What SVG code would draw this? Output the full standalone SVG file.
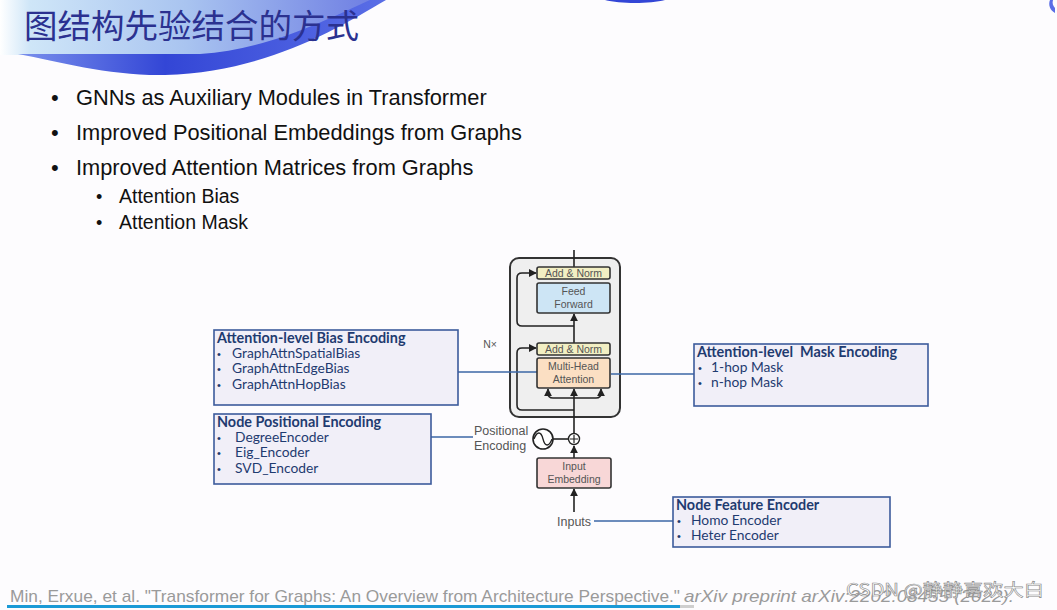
<svg xmlns="http://www.w3.org/2000/svg" width="1057" height="610" viewBox="0 0 1057 610">
<defs>
<linearGradient id="gBanner" x1="0" y1="0" x2="1" y2="0">
<stop offset="0" stop-color="#ffffff"/>
<stop offset="0.08" stop-color="#cfe6f8"/>
<stop offset="0.5" stop-color="#a9c4f0"/>
<stop offset="1" stop-color="#6f7fe3"/>
</linearGradient>
<linearGradient id="gBand" x1="0" y1="0" x2="1" y2="0">
<stop offset="0" stop-color="#7a90ec"/>
<stop offset="0.4" stop-color="#3346d6"/>
<stop offset="1" stop-color="#5a6ee6"/>
</linearGradient>
<marker id="arr" viewBox="0 0 10 10" refX="9" refY="5" markerWidth="5" markerHeight="5" orient="auto-start-reverse">
<path d="M0,0 L10,5 L0,10 z" fill="#222"/>
</marker>
<style>
.bul{font-family:"Liberation Sans",Arial,sans-serif;fill:#111}
.lbl{font-family:"Liberation Sans",Arial,sans-serif;font-size:10.5px;fill:#555;text-anchor:middle}
.lbl2{font-family:"Liberation Sans",Arial,sans-serif;font-size:12.5px;fill:#555}
.blk{stroke:#333;stroke-width:1.6}
.box{fill:#f1eff8;stroke:#3c5b9c;stroke-width:1.6}
.bt{font-family:Lato,"Open Sans",sans-serif;font-size:13.8px;fill:#1f3b70}
.bh{font-weight:bold;font-size:14.4px}
.dot{font-family:"Liberation Sans",Arial,sans-serif;font-size:11px;fill:#1f3b70}
.wire{fill:none;stroke:#222;stroke-width:1.6}
.blue{fill:none;stroke:#3b67a6;stroke-width:1.5}
</style>
</defs>
<rect width="1057" height="610" fill="#fdfcfe"/>
<g id="banner">
<path d="M0,0 L372,0 C330,22 270,52 200,55 L0,55 Z" fill="url(#gBanner)"/>
<path d="M18,54 L200,54 C268,50 330,18 370,0 L386,0 C335,30 265,72 165,75 C110,76 60,62 18,54 Z" fill="url(#gBand)"/>
<path d="M605,0 C620,4 650,4 665,0 Z" fill="#3346d6"/>
<path d="M1050,0 C1048,5 1050,10 1055,13 L1055,8 C1053,6 1052,3 1053,0 Z" fill="#5a6ee6"/>
<text x="24" y="38" font-family="'Noto Sans CJK SC',sans-serif" font-size="33.5" fill="#2b3190">图结构先验结合的方式</text>
</g>
<g id="bullets">
<text class="bul" x="51" y="105" font-size="22">•</text>
<text class="bul" x="76" y="105" font-size="21.8">GNNs as Auxiliary Modules in Transformer</text>
<text class="bul" x="51" y="140" font-size="22">•</text>
<text class="bul" x="76" y="140" font-size="21.8">Improved Positional Embeddings from Graphs</text>
<text class="bul" x="51" y="175" font-size="22">•</text>
<text class="bul" x="76" y="175" font-size="21.8">Improved Attention Matrices from Graphs</text>
<text class="bul" x="96" y="203" font-size="18">•</text>
<text class="bul" x="119" y="203" font-size="19.5">Attention Bias</text>
<text class="bul" x="96" y="229" font-size="18">•</text>
<text class="bul" x="119" y="229" font-size="19.5">Attention Mask</text>
</g>
<g id="encoder-block">
<rect x="510" y="258" width="110" height="159" rx="9" fill="#efefef" stroke="#333" stroke-width="2"/>
<text x="490" y="348" class="lbl" font-size="12">N×</text>
</g>
<g id="connectors">
<line class="wire" x1="574" y1="250" x2="574" y2="268"/>
<line class="wire" x1="574" y1="343" x2="574" y2="314" marker-end="url(#arr)"/>
<line class="wire" x1="574" y1="433" x2="574" y2="389" marker-end="url(#arr)"/>
<path class="wire" d="M574,326 H522 Q517,326 517,321 V278 Q517,273 522,273 H536" marker-end="url(#arr)"/>
<path class="wire" d="M574,410 H522 Q517,410 517,405 V353 Q517,348 522,348 H536" marker-end="url(#arr)"/>
<path class="wire" d="M574,398 H553 Q548,398 548,393 V389" marker-end="url(#arr)"/>
<path class="wire" d="M574,398 H596 Q601,398 601,393 V389" marker-end="url(#arr)"/>
<line class="wire" x1="574" y1="458" x2="574" y2="446" marker-end="url(#arr)"/>
<line class="wire" x1="574" y1="512" x2="574" y2="489" marker-end="url(#arr)"/>
<line class="wire" x1="553" y1="439" x2="568" y2="439"/>
<line class="blue" x1="458" y1="372" x2="537" y2="372"/>
<line class="blue" x1="611" y1="374" x2="694" y2="374"/>
<line class="blue" x1="431" y1="437" x2="473" y2="437"/>
<line class="blue" x1="594" y1="521" x2="673" y2="521"/>
</g>
<g id="add-norm-top">
<rect class="blk" x="537" y="267" width="73" height="12" rx="2" fill="#f2efc3"/>
<text class="lbl" x="573.5" y="277">Add &amp; Norm</text>
</g>
<g id="feed-forward">
<rect class="blk" x="537" y="283" width="73" height="30" rx="2" fill="#cde5f5"/>
<text class="lbl" x="573.5" y="295">Feed</text>
<text class="lbl" x="573.5" y="308">Forward</text>
</g>
<g id="add-norm-bottom">
<rect class="blk" x="537" y="343" width="73" height="12" rx="2" fill="#f2efc3"/>
<text class="lbl" x="573.5" y="353">Add &amp; Norm</text>
</g>
<g id="multi-head-attention">
<rect class="blk" x="537" y="358" width="73" height="30" rx="2" fill="#fbdfc3"/>
<text class="lbl" x="573.5" y="370">Multi-Head</text>
<text class="lbl" x="573.5" y="383">Attention</text>
</g>
<g id="positional-encoding">
<circle cx="543" cy="439" r="10" fill="#fff" stroke="#222" stroke-width="1.6"/>
<path d="M534,439 C537,431 541,431 543,439 C545,447 549,447 552,439" fill="none" stroke="#222" stroke-width="1.3"/>
<circle cx="574" cy="439" r="5.5" fill="#fff" stroke="#222" stroke-width="1.4"/>
<path d="M570,439 H578 M574,435 V443" stroke="#222" stroke-width="1.2"/>
<text class="lbl2" x="474" y="435">Positional</text>
<text class="lbl2" x="474" y="450">Encoding</text>
</g>
<g id="input-embedding">
<rect class="blk" x="537" y="458" width="74" height="30" rx="2" fill="#f8d7d7"/>
<text class="lbl" x="574" y="470">Input</text>
<text class="lbl" x="574" y="483">Embedding</text>
</g>
<g id="inputs">
<text class="lbl2" x="557" y="526">Inputs</text>
</g>
<g id="attn-bias-box">
<rect class="box" x="214" y="330" width="244" height="75"/>
<text class="bt bh" x="217" y="343">Attention-level Bias Encoding</text>
<text class="dot" x="217" y="358">•</text><text class="bt" x="232" y="358">GraphAttnSpatialBias</text>
<text class="dot" x="217" y="373">•</text><text class="bt" x="232" y="373">GraphAttnEdgeBias</text>
<text class="dot" x="217" y="389">•</text><text class="bt" x="232" y="389">GraphAttnHopBias</text>
</g>
<g id="node-pos-box">
<rect class="box" x="214" y="414" width="217" height="70"/>
<text class="bt bh" x="217" y="427">Node Positional Encoding</text>
<text class="dot" x="217" y="442">•</text><text class="bt" x="235" y="442">DegreeEncoder</text>
<text class="dot" x="217" y="457">•</text><text class="bt" x="235" y="457">Eig_Encoder</text>
<text class="dot" x="217" y="473">•</text><text class="bt" x="235" y="473">SVD_Encoder</text>
</g>
<g id="attn-mask-box">
<rect class="box" x="694" y="344" width="234" height="62"/>
<text class="bt bh" x="697" y="357" xml:space="preserve">Attention-level  Mask Encoding</text>
<text class="dot" x="698" y="372">•</text><text class="bt" x="711" y="372">1-hop Mask</text>
<text class="dot" x="698" y="387">•</text><text class="bt" x="711" y="387">n-hop Mask</text>
</g>
<g id="node-feature-box">
<rect class="box" x="673" y="497" width="217" height="50"/>
<text class="bt bh" x="676" y="510">Node Feature Encoder</text>
<text class="dot" x="677" y="525">•</text><text class="bt" x="691" y="525">Homo Encoder</text>
<text class="dot" x="677" y="540">•</text><text class="bt" x="691" y="540">Heter Encoder</text>
</g>
<g id="footer">
<text x="10" y="602" font-family="'Liberation Sans',Arial,sans-serif" font-size="17" fill="#9a9a9a" textLength="670" lengthAdjust="spacingAndGlyphs">Min, Erxue, et al. "Transformer for Graphs: An Overview from Architecture Perspective."</text>
<text x="684" y="602" font-family="'Liberation Sans',Arial,sans-serif" font-size="17" font-style="italic" fill="#9a9a9a" textLength="330" lengthAdjust="spacingAndGlyphs">arXiv preprint arXiv:2202.08455 (2022).</text>
<text x="846" y="596" font-family="'Noto Sans CJK SC',sans-serif" font-size="17" fill="#ffffff" stroke="#8a8a8a" stroke-width="0.6" textLength="198" lengthAdjust="spacingAndGlyphs">CSDN @静静喜欢大白</text>
<rect x="7" y="605" width="673" height="3" fill="#1a9ad6"/>
<rect x="680" y="605" width="14" height="3" fill="#cfcfcf"/>
</g>
</svg>
